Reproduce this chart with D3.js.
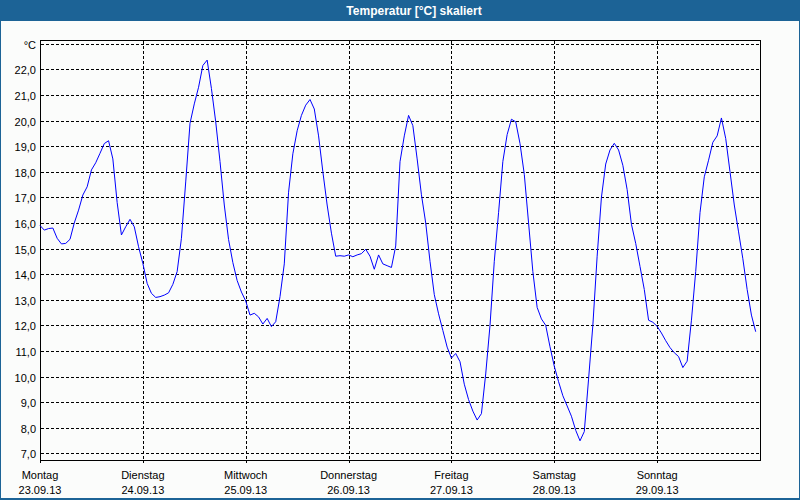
<!DOCTYPE html>
<html>
<head>
<meta charset="utf-8">
<script src="https://cdn.jsdelivr.net/npm/d3@7"></script>
<style>
  html, body { margin: 0; padding: 0; background: #fbfcfb; }
  svg { display: block; }
  text { font-family: "Liberation Sans", Arial, sans-serif; }
</style>
</head>
<body>
<svg id="chart" width="800" height="500"></svg>
<script>
const title = "Temperatur [°C] skaliert";
const unitLabel = "°C";
const dayNames = ["Montag", "Dienstag", "Mittwoch", "Donnerstag", "Freitag", "Samstag", "Sonntag"];
const dayDates = ["23.09.13", "24.09.13", "25.09.13", "26.09.13", "27.09.13", "28.09.13", "29.09.13"];
const yTicks = [7, 8, 9, 10, 11, 12, 13, 14, 15, 16, 17, 18, 19, 20, 21, 22, 23];
// hourly temperatures, 23.09.13 00:00 .. 29.09.13 23:00
const temps = [
  15.90, 15.72, 15.78, 15.80, 15.40, 15.18, 15.20, 15.36, 16.00, 16.50, 17.09, 17.41,
  18.07, 18.35, 18.72, 19.10, 19.21, 18.50, 16.80, 15.53, 15.85, 16.14, 15.85, 15.07,
  14.42, 13.64, 13.25, 13.09, 13.12, 13.18, 13.27, 13.60, 14.10, 15.40, 17.60, 19.89,
  20.65, 21.30, 22.15, 22.36, 21.25, 19.95, 18.40, 16.70, 15.35, 14.45, 13.75, 13.30,
  12.95, 12.40, 12.47, 12.33, 12.05, 12.27, 11.95, 12.14, 13.12, 14.40, 17.20, 18.70,
  19.60, 20.20, 20.60, 20.82, 20.45, 19.40, 18.00, 16.70, 15.60, 14.70, 14.72, 14.70,
  14.75, 14.68, 14.75, 14.80, 14.97, 14.70, 14.19, 14.75, 14.40, 14.33, 14.26, 15.10,
  18.39, 19.40, 20.20, 19.80, 18.50, 17.10, 16.00, 14.50, 13.20, 12.45, 11.80, 11.15,
  10.72, 10.90, 10.58, 9.70, 9.10, 8.65, 8.30, 8.55, 10.10, 12.00, 14.50, 16.40,
  18.40, 19.45, 20.05, 19.95, 19.10, 17.90, 16.00, 14.10, 12.70, 12.25, 12.00, 11.16,
  10.40, 9.80, 9.25, 8.85, 8.45, 7.90, 7.49, 7.85, 9.90, 12.00, 14.70, 17.00,
  18.30, 18.85, 19.11, 18.85, 18.25, 17.30, 15.95, 15.20, 14.30, 13.40, 12.20, 12.12,
  11.96, 11.70, 11.40, 11.13, 10.93, 10.78, 10.35, 10.60, 12.20, 14.10, 16.40, 17.80,
  18.45, 19.15, 19.40, 20.10, 19.30, 18.00, 16.70, 15.65, 14.60, 13.40, 12.40, 11.75
];

const svg = d3.select("#chart");
const W = 800, H = 500;
const pLeft = 40, pRight = 760, pTop = 40, pBottom = 460;

// background and window frame
svg.append("rect").attr("x", 0).attr("y", 0).attr("width", W).attr("height", H).attr("fill", "#fbfcfb");
svg.append("rect").attr("x", 0.5).attr("y", 0.5).attr("width", W - 1).attr("height", H - 1)
  .attr("fill", "none").attr("stroke", "#1c6396").attr("stroke-width", 1);
svg.append("rect").attr("x", 0).attr("y", H - 2).attr("width", W).attr("height", 2).attr("fill", "#1c6396");
svg.append("rect").attr("x", 0).attr("y", 0).attr("width", W).attr("height", 21).attr("fill", "#1c6396");
svg.append("text").attr("x", 414).attr("y", 14.5).attr("text-anchor", "middle")
  .attr("fill", "#ffffff").attr("font-weight", "bold").attr("font-size", "12px").text(title);

const x = d3.scaleLinear().domain([0, 168]).range([pLeft, pRight]);
const y = d3.scaleLinear().domain([6.74, 23.145]).range([pBottom, pTop]);

const grid = svg.append("g").attr("shape-rendering", "crispEdges");
// horizontal dashed gridlines
grid.selectAll("line.h").data(yTicks).join("line")
  .attr("x1", pLeft + 1).attr("x2", pRight)
  .attr("y1", d => Math.round(y(d)) + 0.5).attr("y2", d => Math.round(y(d)) + 0.5)
  .attr("stroke", "#000").attr("stroke-dasharray", "3,2");
// vertical dashed day lines
const dayIdx = d3.range(dayNames.length);
grid.selectAll("line.v").data(dayIdx.slice(1)).join("line")
  .attr("x1", d => Math.round(x(d * 24)) + 0.5).attr("x2", d => Math.round(x(d * 24)) + 0.5)
  .attr("y1", pTop + 1).attr("y2", pBottom + 3)
  .attr("stroke", "#000").attr("stroke-dasharray", "3,2");

// plot frame
grid.append("rect").attr("x", pLeft + 0.5).attr("y", pTop + 0.5)
  .attr("width", pRight - pLeft).attr("height", pBottom - pTop)
  .attr("fill", "none").attr("stroke", "#000");
grid.append("line").attr("x1", pLeft + 0.5).attr("x2", pLeft + 0.5).attr("y1", pBottom).attr("y2", pBottom + 3).attr("stroke", "#000");

// y labels
svg.selectAll("text.yl").data(yTicks).join("text")
  .attr("x", 36).attr("y", d => Math.round(y(d)) + 4.5)
  .attr("text-anchor", "end").attr("font-size", "11px").attr("fill", "#000")
  .text(d => d === 23 ? unitLabel : d.toFixed(1).replace(".", ","));

// x labels
svg.selectAll("text.xn").data(dayIdx).join("text")
  .attr("x", d => x(d * 24)).attr("y", 479).attr("text-anchor", "middle")
  .attr("font-size", "11px").attr("fill", "#000").text(d => dayNames[d]);
svg.selectAll("text.xd").data(dayIdx).join("text")
  .attr("x", d => x(d * 24)).attr("y", 494).attr("text-anchor", "middle")
  .attr("font-size", "11px").attr("fill", "#000").text(d => dayDates[d]);

// temperature line
const line = d3.line().x((d, i) => x(i)).y(d => y(d));
svg.append("path").datum(temps).attr("d", line)
  .attr("fill", "none").attr("stroke", "#0000ff").attr("stroke-width", 1);
</script>
</body>
</html>
